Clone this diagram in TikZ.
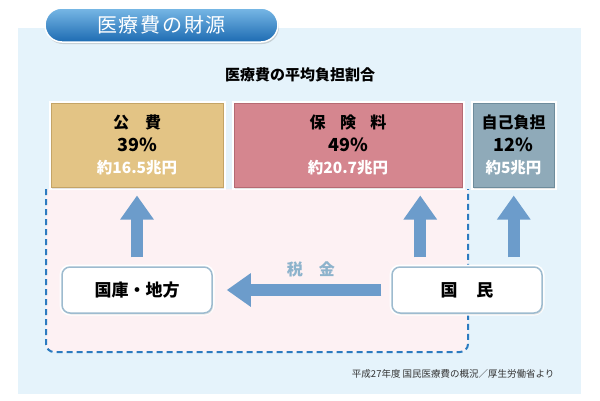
\documentclass[tikz,border=0pt]{standalone}
\usepackage{fontspec}
\setmainfont{Noto Sans CJK JP}
\newfontfamily\titlefont[LetterSpace=9]{Noto Sans CJK JP}
\usepackage{xcolor}
\usetikzlibrary{positioning,shadows,arrows.meta}
\definecolor{panelblue}{HTML}{E5F3FB}
\definecolor{regionpink}{HTML}{FDF1F3}
\definecolor{dashblue}{HTML}{2B7BC0}
\definecolor{tabtop}{HTML}{78B8E6}
\definecolor{tabbottom}{HTML}{1D6BB2}
\definecolor{kohifill}{HTML}{E3C485}
\definecolor{kohiedge}{HTML}{C4A466}
\definecolor{hokenfill}{HTML}{D5868F}
\definecolor{hokenedge}{HTML}{B66A73}
\definecolor{jikofill}{HTML}{8FAAB9}
\definecolor{jikoedge}{HTML}{6E8C9C}
\definecolor{arrowblue}{HTML}{6C9CCB}
\definecolor{boxedge}{HTML}{9DBBCF}
\definecolor{taxgray}{HTML}{8DB3CC}
\newcommand{\shares}[3]{{\bfseries\fontsize{16}{22}\selectfont #1}\\{\bfseries\fontsize{18}{22}\selectfont #2}\\{\color{white}\bfseries\fontsize{15.5}{22}\selectfont #3}}

\begin{document}
\begin{tikzpicture}[x=1pt ,y=-1pt ,on grid ,font=\fontsize{15}{22.5}\selectfont ,topbox/.style ={ rectangle ,minimum height=84pt ,inner sep=0pt ,align=center ,line width=1pt ,preaction={draw=white ,line width=5pt} ,drop shadow={opacity=0.2 ,shadow xshift=1pt ,shadow yshift=-1.5pt} } ,whobox/.style ={ rectangle ,rounded corners=8pt ,minimum width=150pt ,minimum height=46pt ,fill=white ,draw=boxedge ,line width=1.5pt ,preaction={draw=white ,line width=5pt} ,drop shadow={opacity=0.2 ,shadow xshift=1pt ,shadow yshift=-1.5pt} ,font=\bfseries\fontsize{17}{20}\selectfont } ,bigarrow/.style ={ draw=arrowblue ,line width=12pt ,-{Triangle[width=32pt ,length=24pt]} }]
\useasboundingbox[fill=white] (0,0) rectangle (600,400);
\fill[panelblue] (18,28) rectangle (581,394);
% title tab
\node[rectangle ,rounded corners=17pt ,minimum width=233pt ,minimum height=34pt ,top color=tabtop ,bottom color=tabbottom ,draw=white ,line width=1.5pt ,drop shadow={opacity=0.3 ,shadow xshift=1pt ,shadow yshift=-2pt} ,text=white ,font=\titlefont\fontsize{20}{22}\selectfont] (title) at (161.5,25) {医療費の財源};
\node[font=\bfseries\fontsize{15}{18}\selectfont] (heading) at (300,75) {医療費の平均負担割合};
% dashed region
\filldraw[fill=regionpink ,draw=dashblue ,line width=2pt ,dash pattern=on 6pt off 4pt ,rounded corners=8pt] (46,189) -- (46,352) -- (468,352) -- (468,189);
% shares
\node[topbox ,fill=kohifill ,draw=kohiedge ,minimum width=172pt] (kohi) at (137,145) {\shares{公\hspace{1em}費}{39\%}{約16.5兆円}};
\node[topbox ,fill=hokenfill ,draw=hokenedge ,minimum width=228pt] (hoken) [right=211pt of kohi] {\shares{保\hspace{0.9em}険\hspace{0.9em}料}{49\%}{約20.7兆円}};
\node[topbox ,fill=jikofill ,draw=jikoedge ,minimum width=81pt] (jiko) [right=165.5pt of hoken] {\shares{自己負担}{12\%}{約5兆円}};
% payers
\node[whobox] (kokko) [below=145pt of kohi] {国庫・地方};
\node[whobox] (kokumin) [right=330pt of kokko] {国\hspace{1.1em}民};
% flows
\draw[bigarrow ,shorten <=9pt ,shorten >=8pt] (kokko.north) -- (kokko.north |- kohi.south);
\draw[bigarrow ,shorten <=9pt ,shorten >=8pt] ([xshift=29pt]kokumin.north west) -- ([xshift=29pt]kokumin.north west |- hoken.south);
\draw[bigarrow ,shorten <=9pt ,shorten >=8pt] ([xshift=-29pt]kokumin.north east) -- ([xshift=-29pt]kokumin.north east |- jiko.south);
\draw[bigarrow ,shorten <=10pt ,shorten >=14pt] (kokumin.west) -- node[pos=0.45 ,yshift=21pt ,text=taxgray ,font=\bfseries\fontsize{16}{18}\selectfont] (tax) {税\hspace{1em}金} (kokko.east);
\node[anchor=east ,text=black!80 ,font=\fontsize{9.5}{11}\selectfont] (source) at (558,374) {平成27年度 国民医療費の概況／厚生労働省より};
\end{tikzpicture}
\end{document}
